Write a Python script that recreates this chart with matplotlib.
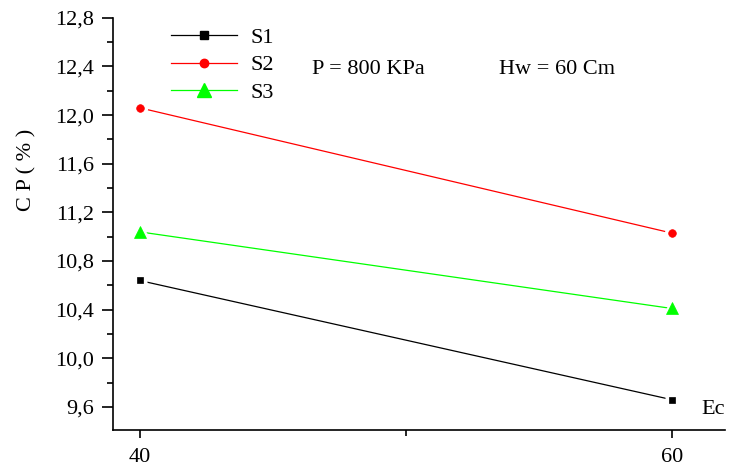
import matplotlib
matplotlib.use("Agg")
import matplotlib.pyplot as plt
from matplotlib.lines import Line2D
from matplotlib.ticker import MultipleLocator, FuncFormatter

plt.rcParams['font.family'] = ['Liberation Serif', 'DejaVu Serif']

# data
ec = [40, 60]
s1 = [10.64, 9.66]
s2 = [12.06, 11.03]
s3 = [11.04, 10.41]
names = ['S1', 'S2', 'S3']
colors = ['black', 'red', '#00ff00']
markers = ['s', 'o', '^']
msizes = [5, 5.5, 9]

fig = plt.figure(figsize=(7.29, 4.68), dpi=100)
ax = fig.add_axes([0.155, 0.081, 0.8395, 0.881])

handles = []
for ys, c, m, ms, n in zip([s1, s2, s3], colors, markers, msizes, names):
    ax.plot(ec, ys, color=c, lw=0.9, zorder=2)
    # white halo under the marker leaves a small gap in the line, as in Origin
    ax.plot(ec, ys, ls='none', marker=m, ms=ms * 2, mfc='white', mec='none', zorder=3)
    ax.plot(ec, ys, ls='none', marker=m, ms=ms, mfc=c, mec=c, mew=0.5, zorder=4)
    handles.append(Line2D([], [], color=c, lw=0.9, marker=m, ms=ms * 1.1, mec=c, label=n))

ax.set_xlim(39, 62)
ax.set_ylim(9.41, 12.8)
ax.set_xticks([40, 60])
ax.xaxis.set_minor_locator(MultipleLocator(10))
ax.yaxis.set_major_locator(MultipleLocator(0.4))
ax.yaxis.set_minor_locator(MultipleLocator(0.2))
ax.yaxis.set_major_formatter(FuncFormatter(lambda v, p: f"{v:.1f}".replace('.', ',')))

for s in ['top', 'right']:
    ax.spines[s].set_visible(False)
for s in ['left', 'bottom']:
    ax.spines[s].set_linewidth(1.2)

ax.tick_params(which='major', direction='out', length=8, width=1.2, labelsize=16, pad=5.5)
ax.tick_params(which='minor', direction='out', length=4, width=1.2)
ax.tick_params(axis='x', which='major', length=6, pad=7)

ax.set_ylabel('C P ( % )', fontsize=16)
ax.yaxis.set_label_coords(-0.125, 0.631)
ax.text(1.0, 0.028, 'Ec', transform=ax.transAxes, ha='right', va='bottom', fontsize=16)

ax.legend(handles=handles, loc='upper left', bbox_to_anchor=(0.07, 1.015), frameon=False,
          fontsize=16, handlelength=2.95, handletextpad=0.6, labelspacing=0.32, borderaxespad=0.3)
ax.text(0.325, 0.875, 'P = 800 KPa', transform=ax.transAxes, fontsize=16, va='center')
ax.text(0.63, 0.875, 'Hw = 60 Cm', transform=ax.transAxes, fontsize=16, va='center')

fig.savefig('out.png', dpi=100)
